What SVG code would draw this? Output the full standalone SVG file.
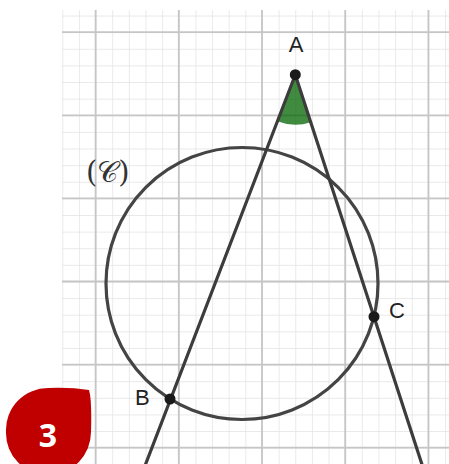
<svg xmlns="http://www.w3.org/2000/svg" width="449" height="464" viewBox="0 0 449 464">
  <defs>
    <clipPath id="gridClip"><rect x="62" y="10" width="387" height="454"/></clipPath>
    <pattern id="minor" x="62.3" y="15.56" width="16.64" height="16.62" patternUnits="userSpaceOnUse">
      <path d="M0,0 V16.62 M0,0 H16.64" fill="none" stroke="#e2e2e2" stroke-width="1.4"/>
    </pattern>
  </defs>
  <style>
    .major { stroke: #c6c6c6; stroke-width: 1.8; fill: none; }
    .seg { stroke: #3c3c3c; stroke-width: 3.2; fill: none; stroke-linecap: round; }
    .circ { stroke: #444; stroke-width: 3.2; fill: none; }
    .pt { fill: #1a1a1a; }
    .lbl { font-family: "Liberation Sans", Arial, sans-serif; font-size: 22px; fill: #222; }
  </style>
  <rect width="449" height="464" fill="#fff"/>
  <g id="grid" clip-path="url(#gridClip)">
    <rect x="62" y="10" width="387" height="454" fill="url(#minor)"/>
    <path class="major" d="M95.6,10 V464 M178.8,10 V464 M262,10 V464 M345.2,10 V464 M428.4,10 V464 M62,32.2 H449 M62,115.3 H449 M62,198.4 H449 M62,281.5 H449 M62,364.6 H449 M62,447.7 H449"/>
  </g>
  <g id="angle">
    <path d="M295.3,74.7 L277.3,121.3 A50,50 0 0 0 310.8,122.3 Z" fill="#006400" fill-opacity="0.75"/>
  </g>
  <g id="circle-C">
    <circle class="circ" cx="242" cy="283.5" r="136"/>
    <text x="86" y="182" font-family="'DejaVu Serif', 'Liberation Serif', serif" font-size="29" fill="#333">(𝒞)</text>
  </g>
  <g id="connectors">
    <line class="seg" x1="295.3" y1="74.7" x2="144.9" y2="466"/>
    <line class="seg" x1="295.3" y1="74.7" x2="422.5" y2="466"/>
  </g>
  <g id="A">
    <circle class="pt" cx="295.3" cy="74.7" r="5.5"/>
    <text class="lbl" x="296" y="52" text-anchor="middle">A</text>
  </g>
  <g id="B">
    <circle class="pt" cx="170" cy="399" r="5.5"/>
    <text class="lbl" x="135" y="405">B</text>
  </g>
  <g id="C">
    <circle class="pt" cx="374" cy="316.7" r="5.5"/>
    <text class="lbl" x="389" y="318">C</text>
  </g>
  <g id="badge">
    <path d="M6,432 A42,42 0 0 1 48,388 Q70,387 89,390 Q92,400 91,432 A43,43 0 0 1 48,475 A42,42 0 0 1 6,432 Z" fill="#c00000"/>
    <text x="48" y="447" text-anchor="middle" font-family="'Open Sans', 'Liberation Sans', sans-serif" font-weight="bold" font-size="32" fill="#fff">3</text>
  </g>
</svg>
